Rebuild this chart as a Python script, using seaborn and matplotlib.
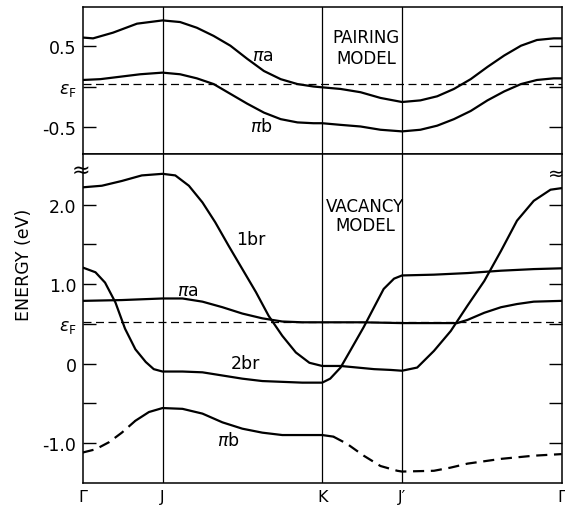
import numpy as np
import pandas as pd
import matplotlib
matplotlib.use("Agg")
import matplotlib.pyplot as plt
import seaborn as sns

# ---------------- data ----------------
kpt_pos = [0, 1, 3, 4, 6]
kpt_labels = ["Γ", "J", "K", "J′", "Γ"]

# Pairing model (top panel)
top_pia_k = [0, 0.13, 0.38, 0.68, 1.0, 1.22, 1.43, 1.64, 1.85, 2.06, 2.27, 2.48, 2.69, 2.89, 3.0,
             3.23, 3.48, 3.73, 4.0, 4.23, 4.44, 4.65, 4.86, 5.07, 5.28, 5.49, 5.69, 5.90, 6.0]
top_pia_e = [0.60, 0.59, 0.66, 0.77, 0.81, 0.79, 0.72, 0.62, 0.50, 0.34, 0.19, 0.09, 0.03, 0.00, -0.01,
             -0.03, -0.07, -0.14, -0.19, -0.17, -0.12, -0.03, 0.09, 0.24, 0.38, 0.50, 0.57, 0.59, 0.59]
top_pib_k = [0, 0.22, 0.47, 0.72, 1.0, 1.22, 1.43, 1.64, 1.85, 2.06, 2.27, 2.48, 2.69, 2.89, 3.0,
             3.23, 3.48, 3.73, 4.0, 4.23, 4.44, 4.65, 4.86, 5.07, 5.28, 5.49, 5.69, 5.9, 6.0]
top_pib_e = [0.08, 0.09, 0.12, 0.15, 0.17, 0.15, 0.10, 0.03, -0.09, -0.21, -0.32, -0.40, -0.44, -0.45, -0.45,
             -0.47, -0.49, -0.53, -0.55, -0.53, -0.48, -0.40, -0.30, -0.17, -0.06, 0.03, 0.08, 0.10, 0.10]
top_ef = 0.03
top_ticks = [0.5, 0.0, -0.5]
top_ticklabels = ["0.5", r"$\epsilon_{\mathrm{F}}$", "-0.5"]

# Vacancy model (bottom panel)
br1_k = [0, 0.24, 0.49, 0.74, 1.0, 1.16, 1.33, 1.50, 1.66, 1.83, 2.0, 2.17, 2.33, 2.50, 2.67, 2.84, 3.0,
         3.23, 3.44, 3.65, 3.86, 4.0, 4.19, 4.40, 4.61, 4.82, 5.03, 5.24, 5.44, 5.65, 5.86, 6.0]
br1_e = [2.22, 2.24, 2.30, 2.37, 2.39, 2.37, 2.24, 2.03, 1.78, 1.48, 1.19, 0.90, 0.60, 0.35, 0.14, 0.01, -0.03,
         -0.03, -0.05, -0.07, -0.08, -0.09, -0.05, 0.16, 0.41, 0.73, 1.04, 1.42, 1.80, 2.05, 2.19, 2.21]
br2_k = [0, 0.16, 0.28, 0.41, 0.53, 0.66, 0.79, 0.89, 1.0, 1.25, 1.50, 1.75, 2.0, 2.25, 2.5, 2.75, 3.0,
         3.10, 3.23, 3.35, 3.52, 3.65, 3.77, 3.90, 4.0, 4.40, 4.82, 5.24, 5.65, 6.0]
br2_e = [1.21, 1.15, 1.02, 0.77, 0.44, 0.18, 0.02, -0.07, -0.10, -0.10, -0.11, -0.15, -0.19, -0.22, -0.23, -0.24, -0.24,
         -0.19, -0.05, 0.16, 0.46, 0.71, 0.94, 1.07, 1.11, 1.12, 1.14, 1.17, 1.19, 1.20]
pia_k = [0, 0.49, 1.0, 1.25, 1.50, 1.75, 2.0, 2.25, 2.5, 2.75, 3.0, 3.5, 4.0, 4.4, 4.69,
         4.82, 5.03, 5.24, 5.44, 5.65, 6.0]
pia_e = [0.79, 0.80, 0.82, 0.82, 0.78, 0.71, 0.63, 0.57, 0.53, 0.52, 0.52, 0.52, 0.51, 0.51, 0.51,
         0.55, 0.64, 0.71, 0.75, 0.78, 0.79]
pib_k = [0, 0.16, 0.33, 0.49, 0.66, 0.83, 1.0, 1.25, 1.5, 1.75, 2.0, 2.25, 2.5, 2.75, 3.0,
         3.14, 3.31, 3.52, 3.73, 3.94, 4.0, 4.40, 4.61, 4.82, 5.24, 5.65, 6.0]
pib_e = [-1.12, -1.08, -0.99, -0.87, -0.72, -0.61, -0.56, -0.57, -0.63, -0.74, -0.82, -0.87, -0.90, -0.90, -0.90,
         -0.92, -1.01, -1.16, -1.29, -1.35, -1.36, -1.35, -1.31, -1.26, -1.20, -1.16, -1.14]
pib_solid_range = (0.66, 3.14)   # solid between these k; dashed outside
bot_ef = 0.52
bot_ticks = [2.0, 1.5, 1.0, 0.5, 0.0, -0.5, -1.0]
bot_ticklabels = ["2.0", "", "1.0", r"$\epsilon_{\mathrm{F}}$", "0", "", "-1.0"]

# ---------------- figure ----------------
sns.set_style("white")
plt.rcParams["font.family"] = ["DejaVu Sans"]
plt.rcParams["mathtext.fontset"] = "dejavusans"
plt.rcParams["text.color"] = "black"

W, H = 565, 510
fig = plt.figure(figsize=(W / 100, H / 100), dpi=100)
L, R = 82.7, 561.7
ax_t = fig.add_axes([L / W, 1 - 154.5 / H, (R - L) / W, (154.5 - 7.7) / H])
ax_b = fig.add_axes([L / W, 1 - 484 / H, (R - L) / W, (484 - 154.5) / H])

lw = 1.6
def band(ax, k, e, **kw):
    sns.lineplot(x=k, y=e, ax=ax, color="black", lw=lw, estimator=None, sort=False, **kw)

band(ax_t, top_pia_k, top_pia_e)
band(ax_t, top_pib_k, top_pib_e)
band(ax_b, br1_k, br1_e)
band(ax_b, br2_k, br2_e)
band(ax_b, pia_k, pia_e)

pk = np.array(pib_k); pe = np.array(pib_e)
a, b = pib_solid_range
m1 = pk <= a; m2 = (pk >= a) & (pk <= b); m3 = pk >= b
band(ax_b, pk[m1], pe[m1], linestyle=(0, (5, 3)))
band(ax_b, pk[m2], pe[m2])
band(ax_b, pk[m3], pe[m3], linestyle=(0, (5, 3)))

for ax, ef in ((ax_t, top_ef), (ax_b, bot_ef)):
    ax.axhline(ef, color="black", lw=0.9, linestyle=(0, (6.4, 3.6)), zorder=1)
    for xk in kpt_pos[1:-1]:
        ax.axvline(xk, color="black", lw=0.9, zorder=1)
    ax.set_xlim(0, 6)
    for s in ax.spines.values():
        s.set_linewidth(1.1)
        s.set_color("black")
    ax.set_xlabel(""); ax.set_ylabel("")
    ax.tick_params(axis="y", direction="in", length=9.5, width=1.0, left=True, right=True,
                   labelsize=12.5, pad=4.5, colors="black")
    ax.tick_params(axis="x", length=0)

ax_t.set_ylim(-0.821, 0.978)
ax_t.set_yticks(top_ticks)
ax_t.set_yticklabels(top_ticklabels)
ax_t.set_xticks([])

ax_b.set_ylim(-1.504, 2.646)
ax_b.set_yticks(bot_ticks)
ax_b.set_yticklabels(bot_ticklabels)
ax_b.set_xticks(kpt_pos)
ax_b.set_xticklabels(kpt_labels, fontsize=11.5)
ax_b.tick_params(axis="x", pad=4, colors="black")

# annotations
fs = 12.5
ax_t.text(2.26, 0.38, r"$\pi$a", fontsize=fs, ha="center", va="center")
ax_t.text(2.24, -0.48, r"$\pi$b", fontsize=fs, ha="center", va="center")
ax_t.text(3.55, 0.61, "PAIRING", fontsize=12, ha="center", va="center")
ax_t.text(3.55, 0.35, "MODEL", fontsize=12, ha="center", va="center")

ax_b.text(3.54, 1.98, "VACANCY", fontsize=12, ha="center", va="center")
ax_b.text(3.54, 1.74, "MODEL", fontsize=12, ha="center", va="center")
ax_b.text(2.10, 1.57, "1br", fontsize=fs, ha="center", va="center")
ax_b.text(1.32, 0.93, r"$\pi$a", fontsize=fs, ha="center", va="center")
ax_b.text(2.04, 0.01, "2br", fontsize=fs, ha="center", va="center")
ax_b.text(1.83, -0.96, r"$\pi$b", fontsize=fs, ha="center", va="center")

fig.text(80.5 / W, 1 - 171 / H, "≈", fontsize=16, ha="center", va="center")
fig.text(556 / W, 1 - 174 / H, "≈", fontsize=14, ha="center", va="center")
fig.text(24.5 / W, 1 - 265 / H, "ENERGY (eV)", rotation=90, fontsize=12.5, ha="center", va="center")

fig.savefig("out.png", dpi=100)
